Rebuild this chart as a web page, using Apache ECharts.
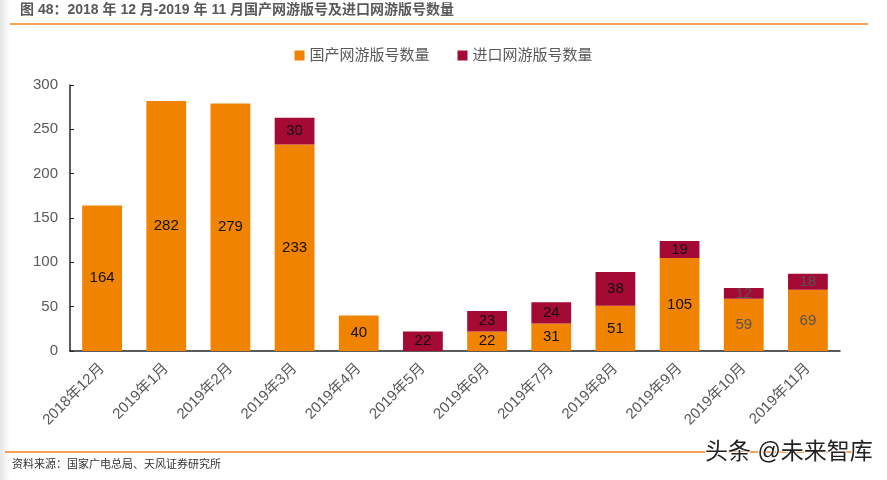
<!DOCTYPE html>
<html>
<head>
<meta charset="utf-8">
<script src="https://cdn.jsdelivr.net/npm/echarts@6/dist/echarts.min.js"></script>
<style>
  html, body { margin: 0; padding: 0; background: #fff; }
  #chart { width: 887px; height: 480px; }
</style>
</head>
<body>
<div id="chart"></div>
<script>
const months = ['2018年12月', '2019年1月', '2019年2月', '2019年3月', '2019年4月', '2019年5月',
  '2019年6月', '2019年7月', '2019年8月', '2019年9月', '2019年10月', '2019年11月'];
const domestic = [164, 282, 279, 233, 40, 0, 22, 31, 51, 105, 59, 69];
const imported = [0, 0, 0, 30, 0, 22, 23, 24, 38, 19, 12, 18];
const yTicks = [0, 50, 100, 150, 200, 250, 300];

const font = '"Liberation Sans", "Noto Sans CJK SC", sans-serif';
const chart = echarts.init(document.getElementById('chart'));

// zero values get no label
const hideZero = function (p) {
  return p.value === 0 ? '' : p.value;
};

chart.setOption({
  animation: false,
  textStyle: { fontFamily: font },
  grid: { left: 70, right: 47, top: 85, bottom: 129 },
  legend: {
    top: 43,
    left: 'center',
    itemWidth: 10,
    itemHeight: 10,
    itemGap: 28,
    icon: 'rect',
    textStyle: { fontSize: 15, color: '#595959', fontFamily: font },
    data: ['国产网游版号数量', '进口网游版号数量']
  },
  xAxis: {
    type: 'category',
    data: months,
    axisLine: { lineStyle: { color: '#262626', width: 1.5 } },
    axisTick: { show: false },
    axisLabel: {
      rotate: 45,
      interval: 0,
      fontSize: 15,
      color: '#595959',
      margin: 15
    }
  },
  yAxis: {
    type: 'value',
    min: yTicks[0],
    max: yTicks[yTicks.length - 1],
    interval: 50,
    splitLine: { show: false },
    axisLine: { show: true, lineStyle: { color: '#262626', width: 1.5 } },
    axisTick: { show: true, inside: true, length: 4, lineStyle: { color: '#262626' } },
    axisLabel: { fontSize: 15, color: '#595959', margin: 12 }
  },
  series: [
    {
      name: '国产网游版号数量',
      type: 'bar',
      stack: 'total',
      barWidth: '62%',
      itemStyle: { color: '#F08300' },
      label: {
        show: true,
        position: 'inside',
        fontSize: 15,
        color: '#111',
        formatter: hideZero
      },
      data: domestic.map(function (v, i) {
        return i >= 10 ? { value: v, label: { color: '#555' } } : v;
      })
    },
    {
      name: '进口网游版号数量',
      type: 'bar',
      stack: 'total',
      itemStyle: { color: '#A50A35' },
      label: {
        show: true,
        position: 'inside',
        fontSize: 15,
        color: '#111',
        formatter: hideZero
      },
      data: imported.map(function (v, i) {
        return i >= 10 ? { value: v, label: { color: '#555' } } : v;
      })
    }
  ],
  graphic: [
    {
      type: 'rect',
      left: 0, top: 0,
      shape: { width: 10, height: 480 },
      style: {
        fill: new echarts.graphic.LinearGradient(0, 0, 1, 0, [
          { offset: 0, color: '#e6e6e6' },
          { offset: 1, color: '#ffffff' }
        ])
      },
      z: -1
    },
    {
      type: 'text',
      left: 20, top: 3,
      style: {
        text: '图 48：2018 年 12 月-2019 年 11 月国产网游版号及进口网游版号数量',
        fontSize: 14,
        fontWeight: 'bold',
        fill: '#595959',
        fontFamily: font
      }
    },
    {
      type: 'line',
      shape: { x1: 10, y1: 24, x2: 868, y2: 24 },
      style: { stroke: '#F5821F', lineWidth: 1.5 }
    },
    {
      type: 'line',
      shape: { x1: 5, y1: 452, x2: 870, y2: 452 },
      style: { stroke: '#F5821F', lineWidth: 1.5 }
    },
    {
      type: 'text',
      left: 12, top: 459,
      style: {
        text: '资料来源：国家广电总局、天风证券研究所',
        fontSize: 11,
        fill: '#333',
        fontFamily: font
      }
    },
    {
      type: 'text',
      left: 704, top: 440,
      style: {
        text: '头条 @未来智库',
        fontSize: 23,
        fill: '#222',
        stroke: '#fff',
        lineWidth: 2,
        fontFamily: font
      },
      z: 10
    }
  ]
});
</script>
</body>
</html>
